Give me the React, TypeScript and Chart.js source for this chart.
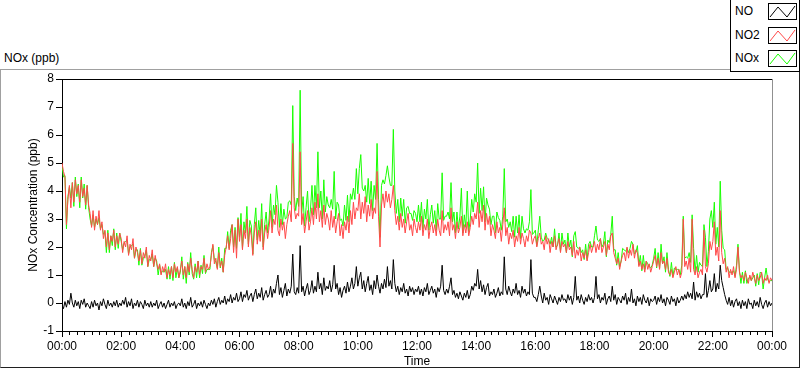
import React, { useEffect, useRef } from "react";
import { Chart, registerables } from "chart.js";

Chart.register(...registerables);

// 3-minute samples from 00:00 to 24:00 (481 points, 20 per hour)
const STEP_MIN = 3;
const Y_TICKS = [-1, 0, 1, 2, 3, 4, 5, 6, 7, 8];
const X_MAJOR_LABELS = ["00:00", "02:00", "04:00", "06:00", "08:00", "10:00", "12:00", "14:00", "16:00", "18:00", "20:00", "22:00", "00:00"];

const NO2 = [
  5.0, 4.7, 4.5, 2.8, 3.7, 4.2, 3.4, 4.3, 3.6, 4.4, 3.9, 4.2, 3.6, 4.4, 3.8, 4.1, 3.5, 4.2, 3.5, 3.2,
  2.7, 3.3, 2.6, 3.1, 2.8, 3.3, 2.6, 2.9, 2.3, 2.6, 2.0, 2.5, 1.9, 2.4, 2.2, 2.6, 2.0, 2.4, 2.1, 2.5,
  2.3, 1.8, 2.2, 2.0, 2.4, 1.7, 2.1, 1.9, 2.3, 1.6, 2.0, 1.8, 1.5, 1.9, 1.4, 1.8, 1.6, 2.0, 1.3, 1.7,
  1.5, 1.9, 1.3, 1.7, 1.4, 1.2, 1.4, 1.0, 1.3, 1.1, 1.4, 0.9, 1.2, 1.0, 1.3, 0.9, 1.4, 1.1, 1.3, 0.9,
  1.2, 1.5, 1.0, 1.3, 0.9, 1.4, 1.1, 1.6, 1.2, 0.9, 1.3, 1.1, 1.5, 1.0, 1.3, 1.2, 1.6, 1.1, 1.4, 1.2,
  1.3, 1.7, 2.1, 1.4, 1.6, 1.2, 1.8, 1.3, 1.5, 1.1, 1.7, 2.0, 2.4, 1.9, 2.3, 2.8, 1.8, 2.6, 1.6, 3.0,
  2.2, 2.8, 1.9, 2.6, 2.3, 3.0, 2.0, 2.7, 2.4, 1.7, 2.5, 2.9, 2.1, 2.6, 2.2, 3.0, 1.9, 2.5, 2.8, 2.3,
  2.7, 3.3, 2.5, 3.0, 2.8, 3.5, 2.6, 2.4, 3.0, 2.6, 2.9, 2.3, 2.8, 3.1, 3.3, 2.9, 5.7, 3.4, 3.0, 3.2,
  3.1, 5.4, 2.8, 3.2, 2.5, 2.9, 3.3, 2.6, 2.9, 3.4, 2.8, 3.6, 3.0, 3.9, 2.9, 3.3, 2.7, 3.5, 2.8, 3.2,
  3.0, 2.6, 3.3, 2.7, 3.1, 2.5, 2.9, 3.2, 2.4, 2.8, 2.3, 2.9, 2.6, 3.1, 2.5, 3.3, 2.8, 3.6, 3.0, 3.4,
  3.3, 3.9, 3.0, 3.6, 3.2, 3.8, 2.9, 3.5, 3.1, 3.7, 3.0, 3.4, 3.2, 4.7, 3.1, 2.0, 3.5, 3.9, 3.4, 4.0,
  3.6, 3.9, 3.4, 3.7, 4.2, 3.3, 2.8, 3.1, 2.6, 3.2, 2.7, 3.0, 2.5, 2.9, 3.2, 2.6, 2.8, 2.4, 3.0, 2.7,
  2.5, 2.9, 2.6, 3.1, 2.4, 2.8, 2.6, 3.0, 2.3, 2.7, 2.9, 2.5, 2.8, 2.4, 3.0, 2.6, 2.4, 3.3, 2.5, 2.8,
  2.6, 2.9, 2.4, 3.4, 2.6, 2.8, 2.3, 2.9, 2.5, 2.7, 3.1, 2.4, 2.8, 2.5, 2.9, 2.4, 2.7, 3.1, 2.8, 3.2,
  3.0, 3.6, 2.7, 3.3, 2.9, 3.5, 2.6, 3.2, 2.8, 3.1, 2.4, 2.8, 2.6, 2.3, 2.9, 2.5, 2.7, 2.2, 2.8, 3.4,
  2.4, 2.7, 2.1, 2.5, 2.3, 2.6, 2.0, 2.4, 2.2, 2.7, 2.1, 2.5, 2.3, 2.0, 2.4, 2.2, 2.6, 2.5, 2.1, 2.3,
  2.4, 2.0, 2.3, 2.5, 2.1, 2.2, 1.9, 2.4, 2.1, 2.3, 1.8, 2.2, 2.0, 2.4, 1.9, 2.1, 2.3, 1.8, 2.2, 2.0,
  2.1, 1.8, 2.2, 1.9, 2.0, 1.7, 2.2, 1.6, 1.9, 1.7, 2.0, 1.5, 1.8, 1.6, 1.9, 1.5, 1.8, 2.1, 1.8, 2.0,
  2.2, 1.8, 2.1, 1.9, 2.3, 1.8, 2.0, 2.2, 1.7, 2.1, 1.9, 2.4, 2.5, 1.8, 1.6, 1.4, 1.6, 1.2, 1.5, 1.7,
  1.8, 1.5, 2.0, 1.6, 1.9, 1.7, 2.1, 1.6, 1.9, 1.8, 1.3, 1.5, 1.2, 1.4, 1.1, 1.5, 1.2, 1.4, 1.1, 1.3,
  1.5, 1.7, 1.3, 1.6, 1.2, 1.8, 1.4, 1.5, 1.2, 1.6, 1.1, 1.0, 1.2, 0.9, 1.1, 1.3, 1.0, 1.2, 0.9, 1.1,
  3.0, 1.3, 1.5, 1.2, 1.6, 1.1, 3.0, 1.2, 1.0, 1.3, 0.9, 1.1, 1.2, 1.0, 2.6, 1.3, 1.1, 1.4, 2.2, 1.9,
  2.2, 2.9, 1.7, 2.0, 1.5, 3.3, 1.8, 1.4, 1.6, 1.1, 1.3, 0.9, 1.2, 1.0, 1.3, 0.9, 1.2, 2.0, 1.1, 0.9,
  1.0, 0.8, 1.1, 0.9, 0.7, 1.0, 0.8, 1.1, 0.9, 0.7, 1.0, 0.8, 0.9, 1.1, 0.7, 0.9, 0.8, 1.0, 0.7, 0.9,
  0.8,
];

const NO = [
  -0.1, -0.2, 0.05, -0.15, 0.1, -0.05, 0.35, 0.0, -0.15, 0.1, -0.1, 0.05, -0.2, 0.1, -0.05, 0.15, -0.15, 0.0, -0.1, -0.2,
  0.05, -0.15, 0.1, -0.1, 0.0, -0.25, 0.05, -0.1, 0.15, -0.05, -0.2, 0.1, -0.1, 0.0, -0.15, 0.05, -0.1, 0.1, -0.15, 0.0,
  -0.1, 0.1, -0.05, 0.2, -0.15, 0.05, -0.1, 0.15, -0.2, 0.0, -0.1, 0.1, -0.15, 0.05, -0.05, -0.2, 0.1, -0.1, 0.0, -0.15,
  0.05, -0.15, 0.0, -0.1, 0.1, -0.2, -0.05, 0.05, -0.15, 0.0, -0.2, -0.05, 0.1, -0.15, 0.0, -0.1, 0.05, -0.2, -0.05, 0.0,
  -0.1, 0.15, -0.15, 0.0, -0.2, 0.05, -0.1, 0.2, -0.15, -0.05, 0.1, -0.2, 0.0, -0.1, 0.05, -0.15, 0.1, -0.05, -0.2, 0.0,
  -0.1, 0.1, -0.05, 0.15, -0.15, 0.05, 0.2, -0.05, 0.1, 0.0, 0.25, -0.05, 0.15, 0.05, 0.3, 0.0, 0.2, 0.1, 0.35, 0.05,
  0.15, 0.4, 0.05, 0.3, 0.2, 0.45, 0.1, 0.25, 0.35, 0.05, 0.3, 0.5, 0.15, 0.35, 0.2, 0.55, 0.1, 0.3, 0.45, 0.2,
  0.3, 0.6, 0.2, 0.5, 0.35, 0.7, 1.0, 0.3, 0.55, 0.2, 0.45, 0.7, 0.25, 0.5, 0.35, 0.6, 1.75, 0.4, 0.3, 0.55,
  0.35, 2.05, 0.4, 0.6, 0.25, 0.5, 0.7, 0.3, 0.45, 0.8, 0.35, 0.6, 0.4, 1.1, 0.5, 0.7, 0.3, 0.9, 0.45, 0.6,
  0.5, 0.8, 0.4, 0.65, 1.35, 0.5, 0.7, 0.3, 0.55, 0.2, 0.45, 0.6, 0.35, 0.75, 0.4, 0.6, 0.9, 0.5, 0.7, 1.3,
  0.6, 0.9, 1.1, 0.5, 0.8, 0.4, 0.7, 0.95, 0.45, 0.65, 0.3, 0.8, 0.5, 1.0, 0.6, 0.35, 0.7, 0.5, 0.85, 0.55,
  1.3, 0.6, 0.8, 0.5, 1.55, 0.7, 0.4, 0.6, 0.3, 0.55, 0.4, 0.7, 0.35, 0.5, 0.25, 0.6, 0.4, 0.55, 0.3, 0.5,
  0.4, 0.6, 0.3, 0.5, 0.25, 0.55, 0.4, 0.7, 0.3, 0.45, 0.6, 0.35, 0.5, 0.2, 0.55, 0.4, 0.6, 1.35, 0.45, 0.3,
  0.5, 0.35, 0.6, 0.9, 0.3, 0.45, 0.2, 0.35, 0.15, 0.4, 0.25, 0.1, 0.35, 0.2, 0.45, 0.15, 0.3, 0.6, 0.45, 0.7,
  0.6, 1.2, 0.5, 0.8, 0.4, 0.65, 0.3, 0.55, 0.7, 0.25, 0.4, 0.3, 0.5, 0.2, 0.35, 0.55, 0.25, 0.4, 0.3, 1.65,
  0.5, 0.3, 0.6, 0.4, 0.25, 0.5, 0.35, 0.7, 0.3, 0.45, 0.2, 0.6, 0.35, 0.5, 0.25, 0.4, 0.3, 1.55, 0.35, 0.2,
  0.2, 0.05, 0.3, 0.6, 0.25, 0.0, 0.35, 0.1, 0.2, -0.05, 0.3, 0.15, 0.0, 0.25, 0.1, -0.05, 0.2, 0.05, 0.3, 0.1,
  0.15, 0.0, 0.3, 0.1, 0.25, -0.05, 0.2, 0.95, 0.1, 0.25, 0.0, 0.3, 0.1, -0.05, 0.2, 0.05, 0.3, 0.1, 0.2, 0.0,
  0.2, 0.95, 0.15, 0.3, 0.0, 0.2, 0.1, 0.35, -0.05, 0.15, 0.25, 0.05, 0.6, 0.1, 0.3, -0.05, 0.2, 0.1, 0.0, 0.25,
  0.1, 0.35, -0.05, 0.2, 0.05, 0.5, 0.0, 0.15, -0.1, 0.25, 0.05, 0.2, -0.05, 0.3, 0.1, 0.0, 0.2, -0.1, 0.15, 0.05,
  0.1, 0.25, -0.05, 0.2, 0.05, 0.3, 0.0, 0.15, -0.1, 0.2, 0.1, -0.05, 0.25, 0.05, 0.15, -0.1, 0.2, 0.0, 0.1, 0.25,
  0.1, 0.3, 0.15, 0.4, 0.2, 0.35, 0.15, 0.75, 0.1, 0.4, 0.2, 0.35, 0.15, 0.3, 0.3, 1.05, 0.2, 0.45, 0.8, 0.4,
  0.5, 1.05, 0.4, 0.7, 0.5, 1.35, 0.8, 0.55, 0.3, 0.1, -0.05, 0.2, -0.1, 0.1, -0.15, 0.05, 0.15, -0.1, 0.05, -0.2,
  0.1, -0.1, 0.05, -0.2, 0.15, -0.05, 0.0, -0.2, 0.1, -0.1, 0.05, -0.15, 0.2, -0.05, -0.2, 0.0, 0.1, -0.15, 0.05, -0.1,
  0.0,
];

const NOX = [
  4.9, 4.5, 4.55, 2.65, 3.8, 4.15, 3.75, 4.3, 3.45, 4.5, 3.8, 4.25, 3.4, 4.5, 3.75, 4.25, 3.35, 4.2, 3.4, 3.0,
  2.75, 3.15, 2.7, 3.0, 2.8, 3.05, 2.65, 2.8, 2.45, 2.55, 1.8, 2.6, 1.8, 2.4, 2.05, 2.65, 1.9, 2.5, 1.95, 2.5,
  2.2, 1.9, 2.15, 2.2, 2.25, 1.75, 2.0, 2.05, 2.1, 1.6, 1.9, 1.9, 1.35, 1.95, 1.35, 1.6, 1.7, 1.9, 1.3, 1.55,
  1.55, 1.75, 1.3, 1.6, 1.5, 1.0, 1.35, 1.05, 1.15, 1.1, 1.2, 0.85, 1.3, 0.85, 1.3, 0.8, 1.45, 0.9, 1.25, 0.9,
  1.1, 1.65, 0.85, 1.3, 0.7, 1.45, 1.0, 1.8, 1.05, 0.85, 1.4, 0.9, 1.5, 0.9, 1.35, 1.05, 1.7, 1.05, 1.2, 1.2,
  1.2, 1.8, 2.05, 1.55, 1.45, 1.25, 2.0, 1.25, 1.6, 1.1, 1.95, 1.95, 2.55, 1.95, 2.6, 2.8, 2.0, 2.7, 1.95, 3.05,
  2.35, 3.2, 1.95, 2.9, 2.5, 3.45, 2.1, 2.95, 2.75, 1.75, 2.8, 3.4, 2.25, 2.95, 2.4, 3.55, 2.0, 2.8, 3.25, 2.5,
  3.0, 3.9, 2.7, 3.5, 3.15, 4.2, 3.6, 2.7, 3.55, 2.8, 3.35, 3.0, 3.05, 3.6, 3.65, 3.5, 7.05, 3.8, 3.3, 3.75,
  3.45, 7.6, 3.2, 3.8, 2.75, 3.4, 4.0, 2.9, 3.35, 4.2, 3.15, 4.2, 3.4, 5.4, 3.4, 4.0, 3.0, 4.4, 3.25, 3.8,
  3.5, 3.4, 3.7, 3.35, 4.7, 3.0, 3.6, 3.5, 2.95, 3.0, 2.75, 3.5, 2.95, 3.85, 2.9, 3.9, 3.7, 4.1, 3.7, 4.8,
  3.9, 4.8, 5.3, 4.1, 4.0, 4.2, 3.6, 4.45, 3.55, 4.35, 3.3, 4.2, 3.7, 5.7, 3.7, 2.35, 4.2, 4.4, 4.25, 4.55,
  4.9, 4.5, 4.2, 4.2, 6.2, 4.0, 3.2, 3.7, 2.9, 3.75, 3.1, 3.7, 2.85, 3.4, 3.45, 3.2, 3.2, 2.95, 3.3, 3.2,
  2.9, 3.5, 2.9, 3.6, 2.65, 3.35, 3.0, 3.7, 2.6, 3.15, 3.5, 2.85, 3.3, 2.6, 3.55, 3.0, 3.0, 4.65, 2.95, 3.1,
  3.1, 3.25, 3.0, 4.3, 2.9, 3.25, 2.5, 3.25, 2.65, 3.1, 4.1, 2.5, 3.15, 2.7, 4.0, 2.55, 3.0, 3.7, 3.25, 3.9,
  3.6, 5.0, 3.2, 4.1, 3.3, 4.15, 2.9, 3.75, 3.5, 3.35, 2.8, 3.1, 3.1, 2.5, 3.25, 3.05, 2.95, 2.6, 3.1, 4.8,
  2.9, 3.0, 2.7, 2.9, 2.55, 3.1, 2.35, 3.1, 2.5, 3.15, 2.3, 3.1, 2.65, 2.5, 2.65, 2.6, 2.9, 4.05, 2.45, 2.5,
  2.6, 2.05, 2.6, 3.1, 2.35, 2.2, 2.25, 2.5, 2.3, 2.25, 2.1, 2.35, 2.0, 2.65, 2.0, 2.05, 2.5, 1.85, 2.5, 2.1,
  2.25, 1.8, 2.5, 2.0, 2.25, 1.65, 2.4, 2.55, 2.0, 1.95, 2.0, 1.8, 1.9, 1.55, 2.1, 1.55, 2.1, 2.2, 2.0, 2.0,
  2.4, 2.75, 2.25, 2.2, 2.3, 2.0, 2.1, 2.55, 1.65, 2.25, 2.15, 2.45, 3.1, 1.9, 1.9, 1.35, 1.8, 1.3, 1.5, 1.95,
  1.9, 1.85, 1.95, 1.8, 1.95, 2.2, 2.1, 1.75, 1.8, 2.05, 1.35, 1.7, 1.15, 1.7, 1.2, 1.5, 1.4, 1.3, 1.25, 1.35,
  1.6, 1.95, 1.25, 1.8, 1.25, 2.1, 1.4, 1.65, 1.1, 1.8, 1.2, 0.95, 1.45, 0.95, 1.25, 1.2, 1.2, 1.2, 1.0, 1.35,
  3.1, 1.6, 1.65, 1.6, 1.8, 1.45, 3.15, 1.95, 1.1, 1.7, 1.1, 1.45, 1.35, 1.3, 2.8, 2.35, 1.3, 1.85, 3.0, 3.3,
  2.7, 3.6, 2.1, 2.7, 2.0, 4.35, 2.6, 1.95, 1.9, 1.2, 1.25, 1.1, 1.1, 1.1, 1.15, 0.95, 1.35, 2.1, 1.15, 0.7,
  1.1, 0.7, 1.15, 0.7, 0.85, 0.95, 0.8, 0.9, 1.0, 0.6, 1.05, 0.65, 1.1, 1.05, 0.5, 0.9, 1.25, 0.85, 0.75, 0.8,
  0.8,
];

const FONT = "'Liberation Sans', Arial, sans-serif";

const toPoints = (vals: number[]) => vals.map((v, i) => ({ x: i * STEP_MIN, y: v }));

const frameAndMinorTicks = {
  id: "frameAndMinorTicks",
  afterDraw(chart: any) {
    const { ctx, chartArea } = chart;
    const xs = chart.scales.x;
    ctx.save();
    ctx.lineWidth = 1;
    ctx.strokeStyle = "#000";
    ctx.beginPath();
    ctx.moveTo(chartArea.left, Math.round(chartArea.top) + 0.5);
    ctx.lineTo(chartArea.right, Math.round(chartArea.top) + 0.5);
    ctx.stroke();
    ctx.strokeStyle = "#909090";
    ctx.beginPath();
    ctx.moveTo(Math.round(chartArea.right) + 0.5, chartArea.top);
    ctx.lineTo(Math.round(chartArea.right) + 0.5, chartArea.bottom);
    ctx.stroke();
    ctx.strokeStyle = "#000";
    ctx.beginPath();
    for (let m = 15; m < 1440; m += 15) {
      if (m % 120 === 0) continue;
      const px = Math.round(xs.getPixelForValue(m)) + 0.5;
      ctx.moveTo(px, chartArea.bottom);
      ctx.lineTo(px, chartArea.bottom + 4);
    }
    ctx.stroke();
    ctx.restore();
  },
};

function Swatch({ color }: { color: string }) {
  return (
    <div
      style={{
        position: "absolute",
        left: 37,
        width: 29,
        height: 17,
        border: "1px solid #000",
        boxSizing: "border-box",
        background: "#fff",
      }}
    >
      <svg width="27" height="15" style={{ position: "absolute", left: 0, top: 0 }}>
        <polyline points="1,13 9,3 18,13 26,2" fill="none" stroke={color} strokeWidth="1" />
      </svg>
    </div>
  );
}

export default function App() {
  const canvasRef = useRef<HTMLCanvasElement | null>(null);

  useEffect(() => {
    if (!canvasRef.current) return;
    const chart = new Chart(canvasRef.current, {
      type: "line",
      data: {
        datasets: [
          { label: "NO", data: toPoints(NO), borderColor: "#000000", borderWidth: 1, pointRadius: 0, tension: 0 },
          { label: "NO2", data: toPoints(NO2), borderColor: "rgb(255,72,72)", borderWidth: 1, pointRadius: 0, tension: 0 },
          { label: "NOx", data: toPoints(NOX), borderColor: "rgb(24,255,0)", borderWidth: 1, pointRadius: 0, tension: 0 },
        ],
      },
      options: {
        animation: false,
        responsive: false,
        maintainAspectRatio: false,
        devicePixelRatio: 1,
        parsing: false as any,
        normalized: true,
        layout: { padding: { top: 79, right: 28, left: 0, bottom: 0 } },
        plugins: { legend: { display: false }, tooltip: { enabled: false } },
        scales: {
          x: {
            type: "linear",
            min: 0,
            max: 1440,
            afterFit: (s: any) => { s.height = 38; },
            afterBuildTicks: (s: any) => {
              s.ticks = X_MAJOR_LABELS.map((_, i) => ({ value: i * 120 }));
            },
            ticks: {
              autoSkip: false,
              maxRotation: 0,
              padding: 2,
              color: "#000",
              font: { family: FONT, size: 12 },
              callback: (_v: any, i: number) => X_MAJOR_LABELS[i],
            },
            grid: { drawOnChartArea: false, drawTicks: true, tickLength: 6, color: "#000" },
            border: { display: true, color: "#000" },
            title: {
              display: true,
              text: "Time",
              color: "#000",
              font: { family: FONT, size: 12 },
              padding: { top: 2, bottom: 0 },
            },
          },
          y: {
            type: "linear",
            min: -1,
            max: 8,
            afterFit: (s: any) => { s.width = 62; },
            afterBuildTicks: (s: any) => {
              s.ticks = Y_TICKS.map((v) => ({ value: v }));
            },
            ticks: {
              padding: 2,
              color: "#000",
              font: { family: FONT, size: 12 },
            },
            grid: { drawOnChartArea: false, drawTicks: true, tickLength: 6, color: "#000" },
            border: { display: true, color: "#000" },
            title: {
              display: true,
              text: "NOx Concentration (ppb)",
              color: "#000",
              font: { family: FONT, size: 12 },
              padding: { top: 26, bottom: 0 },
            },
          },
        },
      },
      plugins: [frameAndMinorTicks],
    });
    return () => chart.destroy();
  }, []);

  const legendRows = [
    { label: "NO", color: "#000000", top: 3 },
    { label: "NO2", color: "rgb(255,72,72)", top: 27 },
    { label: "NOx", color: "rgb(24,255,0)", top: 50 },
  ];

  return (
    <div style={{ position: "absolute", left: 0, top: 0, width: 800, height: 369, background: "#fff", fontFamily: FONT }}>
      <div
        style={{
          position: "absolute",
          left: 0,
          top: 69,
          width: 800,
          height: 299,
          boxSizing: "border-box",
          borderTop: "1px solid #a0a0a0",
          borderLeft: "1px solid #a0a0a0",
          borderBottom: "1px solid #202020",
          borderRight: "1px solid #202020",
        }}
      />
      <div style={{ position: "absolute", left: 4, top: 51, fontSize: 12, lineHeight: "14px", color: "#000" }}>NOx (ppb)</div>
      <canvas ref={canvasRef} width={800} height={369} style={{ position: "absolute", left: 0, top: 0, width: 800, height: 369 }} />
      <div
        style={{
          position: "absolute",
          left: 730,
          top: -1,
          width: 70,
          height: 73,
          boxSizing: "border-box",
          border: "1px solid #000",
          background: "#fff",
        }}
      >
        {legendRows.map((r) => (
          <div key={r.label} style={{ position: "absolute", left: 0, top: r.top, width: 68, height: 17 }}>
            <div style={{ position: "absolute", left: 4, top: 1, fontSize: 12, lineHeight: "14px", color: "#000" }}>{r.label}</div>
            <Swatch color={r.color} />
          </div>
        ))}
      </div>
    </div>
  );
}
